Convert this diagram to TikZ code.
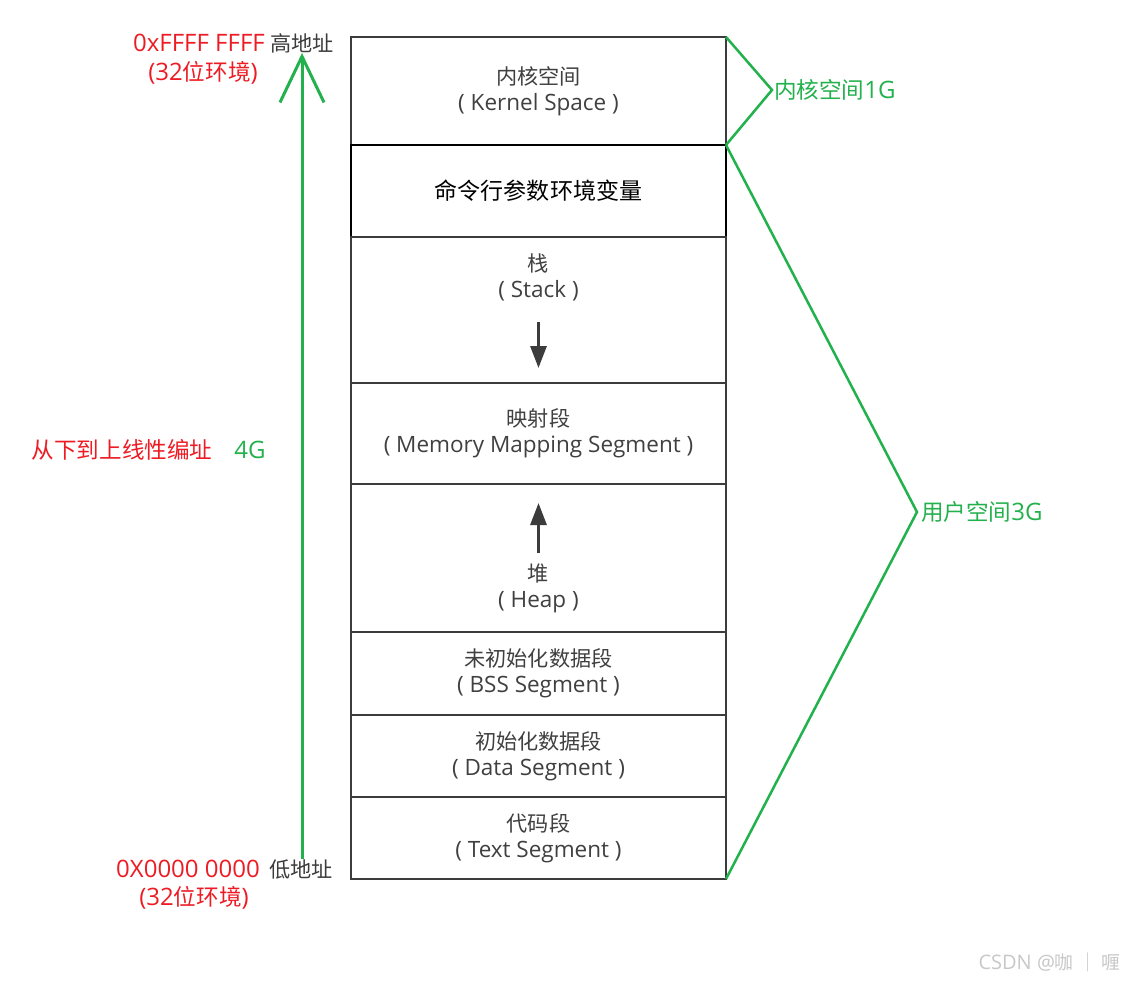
\documentclass[tikz,border=0pt]{standalone}
\usepackage{fontspec}
\setmainfont{Open Sans}
\newfontfamily\cjk{Noto Sans CJK SC}[Scale=0.94]
\usetikzlibrary{arrows.meta,positioning}
\definecolor{segline}{HTML}{3C3C3C}
\definecolor{segtext}{HTML}{404040}
\definecolor{addrred}{HTML}{ED1C24}
\definecolor{spacegreen}{HTML}{22B14C}
\definecolor{wmgray}{HTML}{C8C8C8}
\begin{document}
\begin{tikzpicture}[x=1pt,y=-1pt]
\tikzstyle{every node}=[font=\fontsize{22.5}{26}\selectfont, inner sep=0pt]
\tikzstyle{seg}=[draw=segline, line width=2.5pt, outer sep=0pt, minimum width=375pt, text=segtext, align=center]
\tikzstyle{redtxt}=[text=addrred, align=center, font=\fontsize{24}{28}\selectfont]
\tikzstyle{greentxt}=[text=spacegreen, font=\fontsize{24}{28}\selectfont]
\tikzstyle{brace}=[spacegreen, line width=2.5pt, line join=miter]
\tikzstyle{growarrow}=[segline, line width=3pt, -{Triangle[length=22pt,width=16pt]}]

% white background, same size as the picture
\fill[white] (0,0) rectangle (1124,982);

% memory segments, top to bottom
\node[seg, minimum height=108pt] (kernel) at (538.5,91) {{\cjk 内核空间}\\( Kernel Space )};
\node[seg, minimum height=92pt, draw=black, line width=2.8pt, text=black, font=\fontsize{24.5}{28}\selectfont, below=0pt of kernel] (cmdline) {\cjk 命令行参数环境变量};
\node[seg, minimum height=146pt, below=0pt of cmdline] (stack) {};
\node[seg, minimum height=101pt, below=0pt of stack] (mmap) {{\cjk 映射段}\\( Memory Mapping Segment )};
\node[seg, minimum height=148pt, below=0pt of mmap] (heap) {};
\node[seg, minimum height=83pt, below=0pt of heap] (bss) {{\cjk 未初始化数据段}\\( BSS Segment )};
\node[seg, minimum height=82pt, below=0pt of bss] (data) {{\cjk 初始化数据段}\\( Data Segment )};
\node[seg, minimum height=82pt, below=0pt of data] (text) {{\cjk 代码段}\\( Text Segment )};

% stack grows down, heap grows up
\node[text=segtext, align=center] (stacklbl) at (538.5,277) {{\cjk 栈}\\( Stack )};
\draw[growarrow] (538.5,322) -- (538.5,368);
\node[text=segtext, align=center] (heaplbl) at (538.5,588.5) {{\cjk 堆}\\( Heap )};
\draw[growarrow] (538.5,553) -- (538.5,503);

% addresses on the left
\node[text=segline] (hiaddr) at (302,43) {\cjk 高地址};
\node[text=segline] (loaddr) at (301,869) {\cjk 低地址};
\node[redtxt, anchor=east] (hinum) at (265,43) {0xFFFF FFFF};
\node[redtxt] (hienv) at (203,73) {(32{\cjk 位环境})};
\node[redtxt, anchor=east] (lonum) at (260,869) {0X0000 0000};
\node[redtxt] (loenv) at (194,898) {(32{\cjk 位环境})};
\draw[spacegreen, line width=3pt, -{Straight Barb[length=46pt,width=44pt]}] (loaddr.north -| hiaddr.south) -- (hiaddr.south);
\node[redtxt] (linear) at (122,450) {\cjk 从下到上线性编址};
\node[greentxt] (total) at (250,450) {4G};

% kernel / user split
\node[greentxt, anchor=west, inner xsep=2pt] (kernsize) at (772,90) {{\cjk 内核空间}1G};
\draw[brace] (kernel.north east) -- (kernsize.west) -- (kernel.south east);
\node[greentxt, anchor=west, inner xsep=4pt] (usersize) at (917,512) {{\cjk 用户空间}3G};
\draw[brace] (cmdline.north east) -- (usersize.west) -- (text.south east);

% watermark
\node[text=wmgray, font=\fontsize{20}{22}\selectfont, anchor=east] (wmark) at (1120,962) {CSDN @{\cjk 咖 ｜ 喱}};
\end{tikzpicture}
\end{document}
